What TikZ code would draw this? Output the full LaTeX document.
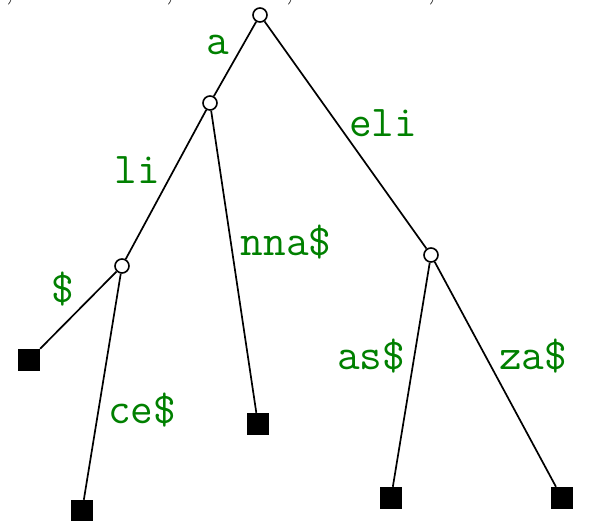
\documentclass[tikz,border=0pt]{standalone}
\begin{document}
\begin{tikzpicture}[x=1pt,y=-1pt,
  inner/.style={circle,draw,fill=white,line width=1.6pt,minimum size=14pt,inner sep=0pt},
  leaf/.style={rectangle,fill=black,minimum size=22pt,inner sep=0pt},
  lab/.style={text=green!50!black,font=\fontsize{44}{44}\selectfont\ttfamily,inner sep=0pt},
  edge/.style={line width=1.7pt}]
\useasboundingbox (0,0) rectangle (592,521);
\foreach \cx/\nm in {10/c1,170/c2,290/c3,432/c4}
  \node[anchor=base,font=\fontsize{44}{44}\selectfont,inner sep=0pt] (\nm) at (\cx,-3) {,};
\node[inner] (r) at (260,15) {};
\node[inner] (na) at (210,103) {};
\node[inner] (nli) at (122,266) {};
\node[inner] (neli) at (431,255) {};
\node[leaf] (l1) at (29,360) {};
\node[leaf] (l2) at (82,511) {};
\node[leaf] (l3) at (258,424) {};
\node[leaf] (l4) at (391,498) {};
\node[leaf] (l5) at (562,498) {};
\draw[edge] (r) -- (na);
\draw[edge] (r) -- (neli);
\draw[edge] (na) -- (nli);
\draw[edge] (na) -- (l3);
\draw[edge] (nli) -- (l1);
\draw[edge] (nli) -- (l2);
\draw[edge] (neli) -- (l4);
\draw[edge] (neli) -- (l5);
\node[lab] (ta) at (218,45) {a};
\node[lab] (tli) at (137,170) {li};
\node[lab] (tnna) at (286,242) {nna\$};
\node[lab] (teli) at (383,123) {eli};
\node[lab] (td) at (63,289) {\$};
\node[lab] (tce) at (142,410) {ce\$};
\node[lab] (tas) at (371,356) {as\$};
\node[lab] (tza) at (533,356) {za\$};
\end{tikzpicture}
\end{document}
